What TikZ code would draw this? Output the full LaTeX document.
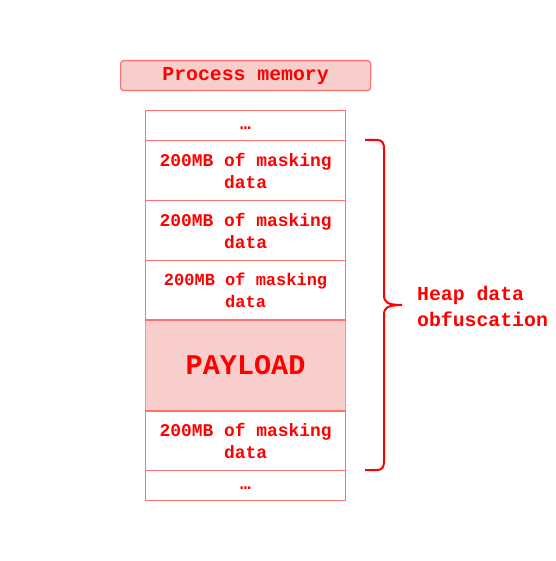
\documentclass[tikz,border=0pt]{standalone}
\usepackage{fontspec}
\setmonofont{Liberation Mono}
\definecolor{txtred}{HTML}{FF0000}
\definecolor{cellborder}{HTML}{FF7070}
\definecolor{pinkfill}{HTML}{F8CECC}
\definecolor{payborder}{HTML}{D8A0A0}
\begin{document}
\begin{tikzpicture}[x=1pt,y=-1pt,
  cell/.style={draw=cellborder, line width=1.2pt, minimum width=200pt, inner sep=0pt, align=center, text=txtred, font=\ttfamily\bfseries\fontsize{17.9}{22}\selectfont, anchor=north west},
  lbl/.style={text=txtred, font=\ttfamily\bfseries\fontsize{19.8}{26}\selectfont}]
\useasboundingbox (0,0) rectangle (555,561);
\node[draw=cellborder, line width=1.2pt, fill=pinkfill, rounded corners=3pt, minimum width=250pt, minimum height=30pt, inner sep=0pt, lbl, anchor=north west] (pm) at (120,60) {Process memory};
\node[cell, minimum height=30pt] (r1) at (145,110) {\vphantom{Ag}\dots};
\node[cell, minimum height=60pt] (r2) at (145,140) {200MB of masking\\data};
\node[cell, minimum height=60pt] (r3) at (145,200) {200MB of masking\\data};
\node[cell, minimum height=60pt, font=\ttfamily\bfseries\fontsize{17}{22}\selectfont] (r4) at (145,260) {200MB of masking\\data};
\node[cell, draw=payborder, fill=pinkfill, minimum height=90pt, font=\ttfamily\bfseries\fontsize{28.5}{30}\selectfont] (pay) at (145,320) {PAYLOAD};
\draw[cellborder, line width=1.2pt] (pay.north west) -- (pay.north east) (pay.south west) -- (pay.south east);
\node[cell, minimum height=60pt] (r5) at (145,410) {200MB of masking\\data};
\node[cell, minimum height=30pt] (r6) at (145,470) {\vphantom{Ag}\dots};
\coordinate (bt) at (365,140);
\coordinate (bb) at (365,470);
\coordinate (tip) at (402,305);
\draw[txtred, line width=2pt] (bt) -- (376,140) .. controls (383,140) and (384,143) .. (384,150) -- (384,295) .. controls (384,302) and (387,305) .. (tip);
\draw[txtred, line width=2pt] (bb) -- (376,470) .. controls (383,470) and (384,467) .. (384,460) -- (384,315) .. controls (384,308) and (387,305) .. (tip);
\node[lbl, align=left, anchor=west, inner sep=0pt] (heap) at (417,306) {Heap data\\obfuscation};
\end{tikzpicture}
\end{document}
